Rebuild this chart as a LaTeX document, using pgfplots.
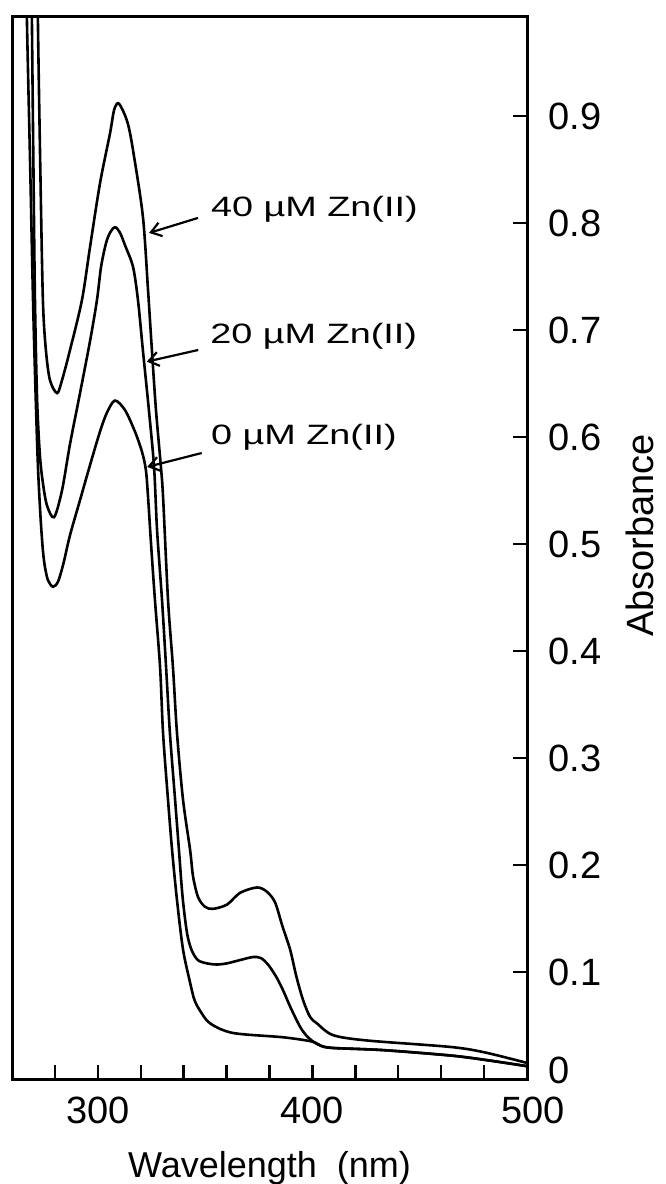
\documentclass[border=0pt]{standalone}
\usepackage{fontspec}
\setmainfont{Liberation Sans}
\newfontfamily\annfont[FakeStretch=1.35]{Liberation Sans}
\usepackage{pgfplots}
\pgfplotsset{compat=1.18}
\usetikzlibrary{arrows.meta}

\pgfplotstableread{
x y
266.6 1.05
267.0 0.985
268.5 0.85
269.8 0.728
271.0 0.64
272.1 0.572
273.3 0.525
274.4 0.494
275.4 0.478
276.8 0.466
279.1 0.460
281.5 0.465
284.0 0.482
287.0 0.508
291.7 0.541
296.4 0.574
301.0 0.605
304.3 0.623
308.0 0.634
312.7 0.625
317.3 0.605
320.6 0.586
322.4 0.569
323.4 0.544
324.8 0.500
326.6 0.448
329.0 0.385
330.4 0.323
332.7 0.261
334.6 0.214
336.9 0.167
339.7 0.121
343.0 0.090
345.0 0.074
347.6 0.064
352.3 0.052
363.0 0.043
386.3 0.039
399.8 0.035
404.0 0.031
409.6 0.029
432.9 0.027
464.1 0.022
480.0 0.018
500.0 0.012
}\zerouM

\pgfplotstableread{
x y
269.1 1.05
269.3 0.985
270.0 0.85
270.7 0.728
271.7 0.635
273.0 0.583
274.4 0.557
276.3 0.536
279.6 0.525
283.3 0.550
287.0 0.593
291.7 0.641
296.4 0.690
299.6 0.728
301.5 0.759
303.8 0.781
305.7 0.791
308.0 0.796
310.3 0.791
312.7 0.779
316.4 0.759
318.7 0.728
321.0 0.681
323.8 0.625
326.2 0.572
327.6 0.513
329.9 0.448
331.8 0.385
333.6 0.323
336.0 0.261
337.8 0.214
339.5 0.170
341.6 0.136
343.8 0.120
346.7 0.111
351.0 0.108
355.5 0.107
360.0 0.108
366.0 0.111
372.3 0.114
376.0 0.113
379.3 0.107
383.0 0.096
386.3 0.083
390.0 0.066
394.2 0.049
397.0 0.041
400.3 0.035
404.0 0.031
409.6 0.029
432.9 0.027
464.1 0.022
480.0 0.018
500.0 0.012
}\twentyuM

\pgfplotstableread{
x y
271.9 1.05
272.1 0.985
273.2 0.85
274.4 0.728
275.8 0.681
277.7 0.653
281.0 0.641
283.3 0.653
287.0 0.681
292.6 0.728
296.4 0.778
301.0 0.837
305.7 0.884
307.5 0.905
309.4 0.912
311.7 0.905
314.1 0.892
316.4 0.868
321.0 0.806
323.4 0.737
325.2 0.681
327.1 0.625
329.4 0.572
330.4 0.544
332.7 0.448
335.0 0.385
336.9 0.323
339.7 0.261
343.0 0.214
344.4 0.189
346.7 0.170
349.9 0.161
353.7 0.159
360.2 0.163
366.3 0.174
374.2 0.179
378.8 0.175
382.6 0.165
386.0 0.143
389.6 0.121
392.5 0.096
395.6 0.074
398.9 0.058
402.1 0.052
409.6 0.041
425.4 0.036
464.1 0.030
480.0 0.025
500.0 0.015
}\fortyuM

\begin{document}
\begin{tikzpicture}
\begin{axis}[
  scale only axis,
  width=257.5pt, height=531pt,
  xmin=260, xmax=500, ymin=0, ymax=0.9925,
  axis line style={line width=1.5pt},
  tick style={line width=1.2pt, black},
  major tick length=7pt,
  tick align=inside,
  xtick pos=bottom, ytick pos=right,
  xticklabel pos=bottom, yticklabel pos=right,
  xtick={280,300,...,500},
  xticklabels={,300,,,,,400,,,,,\hspace*{6pt}500},
  ytick={0,0.1,0.2,0.3,0.4,0.5,0.6,0.7,0.8,0.9},
  yticklabels={\raisebox{9pt}{0},0.1,0.2,0.3,0.4,0.5,0.6,0.7,0.8,0.9},
  ticklabel style={font=\fontsize{19}{22}\selectfont, inner sep=0pt},
  xticklabel style={anchor=north, yshift=-9pt},
  yticklabel style={anchor=west, xshift=10.5pt},
  every axis x label/.style={at={(axis description cs:0.5,-0.0923)}, anchor=base, font=\fontsize{18}{21}\selectfont},
  every axis y label/.style={at={(axis description cs:1.22,0.512)}, anchor=center, rotate=90, font=\fontsize{19}{22}\selectfont},
  xlabel={Wavelength\ \ (nm)},
  ylabel={Absorbance},
  cycle list={{black}},
  no markers,
]
\addplot[black, no markers, line width=1.3pt, smooth, tension=0.5] table[x=x,y=y] {\zerouM};
\addplot[black, no markers, line width=1.3pt, smooth, tension=0.5] table[x=x,y=y] {\twentyuM};
\addplot[black, no markers, line width=1.3pt, smooth, tension=0.5] table[x=x,y=y] {\fortyuM};

\node[anchor=base west, inner sep=0pt, font=\annfont\fontsize{14}{16}\selectfont] at (axis cs:352.6,0.806) {40 µM Zn(II)};
\node[anchor=base west, inner sep=0pt, font=\annfont\fontsize{14}{16}\selectfont] at (axis cs:352.3,0.687) {20 µM Zn(II)};
\node[anchor=base west, inner sep=0pt, font=\annfont\fontsize{14}{16}\selectfont] at (axis cs:352.6,0.5925) {0 µM Zn(II)};

\draw[line width=1.1pt, -{Straight Barb[length=5pt,width=7pt]}] (axis cs:346.7,0.8047) -- (axis cs:323.9,0.7907);
\draw[line width=1.1pt, -{Straight Barb[length=5pt,width=7pt]}] (axis cs:346.8,0.6813) -- (axis cs:322.8,0.6704);
\draw[line width=1.1pt, -{Straight Barb[length=5pt,width=7pt]}] (axis cs:348.4,0.585) -- (axis cs:323.0,0.572);
\end{axis}
\pgfresetboundingbox
\path[use as bounding box] (-6pt,-52.5pt) rectangle (326.5pt,539.5pt);
\end{tikzpicture}
\end{document}
